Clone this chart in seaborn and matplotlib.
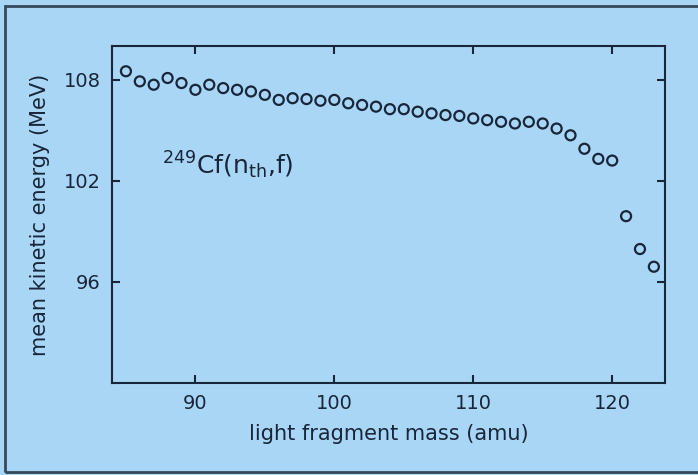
import numpy as np
import pandas as pd
import matplotlib
matplotlib.use("Agg")
import matplotlib.pyplot as plt
from matplotlib.patches import Rectangle
import seaborn as sns

# light fragment mass (amu) and mean kinetic energy (MeV)
mass = [85, 86, 87, 88, 89, 90, 91, 92, 93, 94, 95, 96, 97, 98, 99, 100, 101, 102, 103,
        104, 105, 106, 107, 108, 109, 110, 111, 112, 113, 114, 115, 116, 117, 118, 119,
        120, 121, 122, 123]
energy = [108.5, 107.9, 107.7, 108.1, 107.8, 107.4, 107.7, 107.5, 107.4, 107.3, 107.1,
          106.8, 106.9, 106.85, 106.75, 106.8, 106.6, 106.5, 106.4, 106.25, 106.25, 106.1,
          106.0, 105.9, 105.85, 105.7, 105.6, 105.5, 105.4, 105.5, 105.4, 105.1, 104.7,
          103.9, 103.3, 103.2, 99.9, 97.95, 96.9]

xticks = [90, 100, 110, 120]
yticks = [96, 102, 108]

bg = "#aad6f5"
ink = "#17263a"

sns.set_theme(style="ticks")
plt.rcParams["font.family"] = ["DejaVu Sans"]
plt.rcParams["mathtext.default"] = "regular"

df = pd.DataFrame({"mass": mass, "energy": energy})

fig = plt.figure(figsize=(6.98, 4.75), dpi=100, facecolor=bg)
ax = fig.add_axes([0.1605, 0.1937, 0.7922, 0.7095])
ax.set_facecolor(bg)

sns.scatterplot(data=df, x="mass", y="energy", ax=ax, marker="o", s=52,
                facecolor="none", edgecolor=ink, linewidth=1.6)

ax.set_xlim(84, 123.8)
ax.set_ylim(90, 110)
ax.set_xticks(xticks)
ax.set_yticks(yticks)
ax.tick_params(direction="in", length=6, width=1.5, color=ink, labelcolor=ink,
               labelsize=14, top=True, right=True, pad=8)
for sp in ax.spines.values():
    sp.set_visible(True)
    sp.set_color(ink)
    sp.set_linewidth(1.5)

ax.set_xlabel("light fragment mass (amu)", fontsize=15, color=ink, labelpad=8)
ax.set_ylabel("mean kinetic energy (MeV)", fontsize=15, color=ink, labelpad=10)

ax.text(0.09, 0.645, r"$^{249}$Cf(n$_{th}$,f)", transform=ax.transAxes,
        fontsize=18, color=ink, ha="left", va="center")

# thin frame round the whole picture
fig.patches.append(Rectangle((0.007, 0.006), 1.1, 0.981, transform=fig.transFigure,
                             fill=False, edgecolor="#34495a", linewidth=2))

fig.savefig("out.png", dpi=100, facecolor=bg)
